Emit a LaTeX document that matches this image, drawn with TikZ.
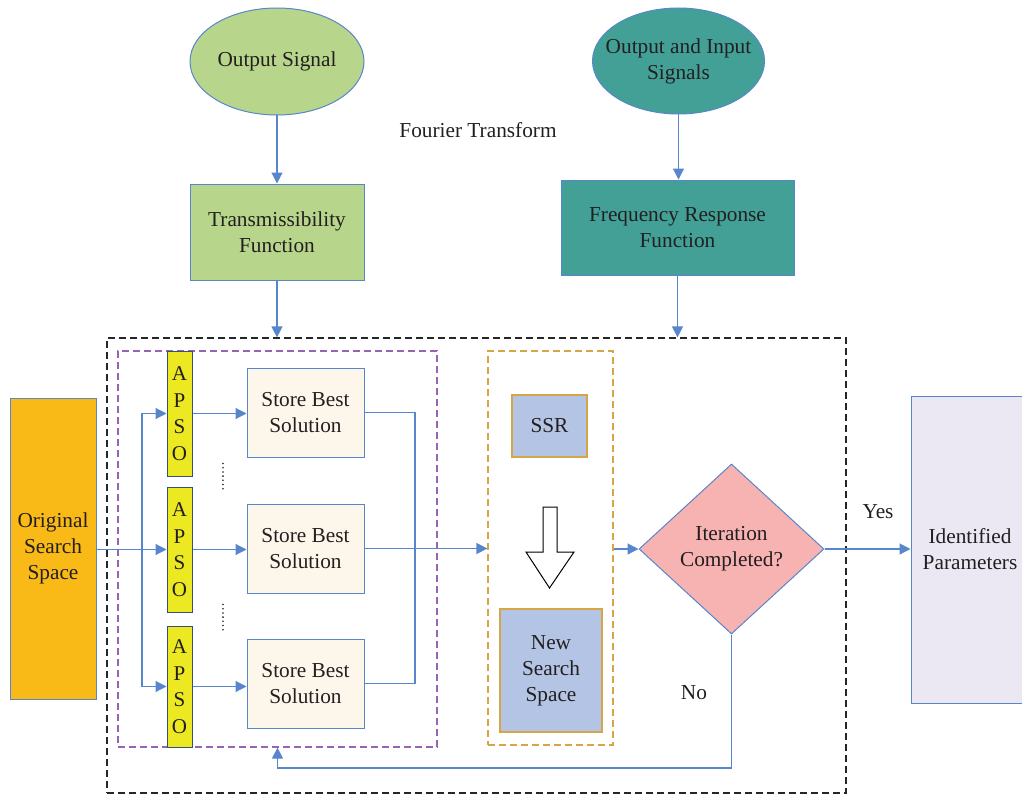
\documentclass[tikz,border=0pt]{standalone}
\usepackage{fontspec}
\setmainfont{Liberation Serif}
\usetikzlibrary{shapes.geometric,arrows.meta,calc}
\definecolor{lineblue}{RGB}{88,134,204}
\definecolor{txt}{RGB}{35,31,32}
\definecolor{lgreen}{RGB}{183,214,139}
\definecolor{teal}{RGB}{66,160,151}
\definecolor{apsoyel}{RGB}{236,232,34}
\definecolor{ossorange}{RGB}{249,185,22}
\definecolor{cream}{RGB}{253,246,234}
\definecolor{ssrblue}{RGB}{180,196,229}
\definecolor{goldline}{RGB}{214,166,70}
\definecolor{pink}{RGB}{247,178,178}
\definecolor{lavender}{RGB}{235,231,243}
\definecolor{purpleline}{RGB}{150,100,180}
\tikzset{
  base/.style={draw=lineblue, line width=1pt, inner sep=0pt, align=center, text=txt},
  boxb/.style={base, rectangle},
  ell/.style={base, ellipse},
  ctext/.style={align=center, text=txt},
  goldbox/.style={rectangle, draw=goldline, line width=1.3pt, fill=ssrblue, inner sep=0pt, align=center, text=txt},
  apso/.style={rectangle, draw=lineblue!60!black, line width=1pt, fill=apsoyel, inner sep=0pt, align=center, text=txt, font=\fontsize{21}{26.5}\selectfont},
  conn/.style={draw=lineblue, line width=1.2pt, -{Triangle[length=11pt,width=11pt]}},
  plain/.style={draw=lineblue, line width=1.2pt},
  grp/.style={rectangle, dashed, dash pattern=on 7pt off 4pt, line width=1.2pt, inner sep=0pt}
}
\begin{document}
\begin{tikzpicture}[x=1pt,y=-1pt, font=\fontsize{21.3}{26}\selectfont]
\useasboundingbox (0,0) rectangle (1022,797);
\clip (0,0) rectangle (1022,797);

% top
\node[ell, fill=lgreen, minimum width=174pt, minimum height=107pt,
      label={[ctext]center:Output Signal}] (osig) at (277,61.5) {};
\node[ell, fill=teal, minimum width=172pt, minimum height=106pt,
      label={[ctext]center:{Output and Input\\Signals}}] (oisig) at (678.5,61) {};
\node[text=txt] (fourier) at (478,130) {Fourier Transform};
\node[boxb, fill=lgreen, minimum width=174pt, minimum height=96pt] (trans) at (277,232) {Transmissibility\\Function};
\node[boxb, fill=teal, minimum width=233pt, minimum height=95pt] (freq) at (677.5,227.5) {Frequency Response\\Function};

% groups
\node[grp, draw=black!85, minimum width=739pt, minimum height=455pt] (outer) at (476.5,565.5) {};
\node[grp, draw=purpleline, minimum width=319pt, minimum height=396pt] (pgrp) at (277.5,549) {};
\node[grp, draw=goldline, minimum width=125pt, minimum height=394pt] (ggrp) at (550.5,548) {};

% left
\node[boxb, fill=ossorange, minimum width=86pt, minimum height=301pt] (oss) at (53,548.5) {Original\\Search\\Space};

\node[apso, minimum width=25pt, minimum height=125pt] (a1) at (179.5,413.5) {A\\P\\S\\O};
\node[apso, minimum width=25pt, minimum height=125pt] (a2) at (179.5,549.5) {A\\P\\S\\O};
\node[apso, minimum width=25pt, minimum height=121pt] (a3) at (179.5,686.5) {A\\P\\S\\O};

\node[boxb, fill=cream, minimum width=117pt, minimum height=89pt] (s1) at (305.5,412.5) {Store Best\\Solution};
\node[boxb, fill=cream, minimum width=117pt, minimum height=89pt] (s2) at (305.5,548.5) {Store Best\\Solution};
\node[boxb, fill=cream, minimum width=117pt, minimum height=89pt] (s3) at (305.5,683.5) {Store Best\\Solution};

\foreach \i in {0,...,6} {
  \fill[txt] (223,463.5+4.2*\i) circle (0.9pt);
  \fill[txt] (223,604.5+4.2*\i) circle (0.9pt);
}

% SSR group
\node[goldbox, minimum width=75pt, minimum height=62pt] (ssr) at (549.5,426) {SSR};
\node[goldbox, minimum width=102pt, minimum height=123pt] (nss) at (551,670.5) {New\\Search\\Space};
\draw[black, line width=1pt, fill=white] (543,507) -- (557,507) -- (557,552) -- (574,552) -- (549.5,588) -- (526,552) -- (543,552) -- cycle;

% decision
\node[base, shape=diamond, fill=pink, minimum width=185pt, minimum height=170pt] (dia) at (731.5,549) {Iteration\\Completed?};
\node[boxb, fill=lavender, minimum width=118pt, minimum height=307pt] (ident) at (970,549.5) {Identified\\Parameters};
\node[text=txt] (yes) at (878,512) {Yes};
\node[text=txt] (no) at (694,693) {No};

% connectors
\draw[conn] (osig) -- (trans);
\draw[conn] (oisig.south) -- (oisig.south |- freq.north);
\draw[conn] (trans.south) -- (trans.south |- outer.north);
\draw[conn] (freq.south) -- (freq.south |- outer.north);

\coordinate (fork) at (142,549.5);
\draw[conn] (oss.east |- a2.west) -- (a2.west);
\draw[conn] (fork) |- (a1.west);
\draw[conn] (fork) |- (a3.west);
\draw[conn] (a1.east) -- (a1.east -| s1.west);
\draw[conn] (a2.east) -- (a2.east -| s2.west);
\draw[conn] (a3.east) -- (a3.east -| s3.west);

\coordinate (merge) at (415,548.5);
\draw[plain] (s1.east) -| (merge);
\draw[plain] (s3.east) -| (merge);
\draw[conn] (s2.east) -- (s2.east -| ggrp.west);
\draw[conn] (ggrp.east |- dia.west) -- (dia.west);
\draw[conn] (dia.east) -- (dia.east -| ident.west);

\coordinate (loop) at (277.5,768);
\draw[conn] (dia.south) |- (loop) -- (pgrp.south);
\end{tikzpicture}
\end{document}
